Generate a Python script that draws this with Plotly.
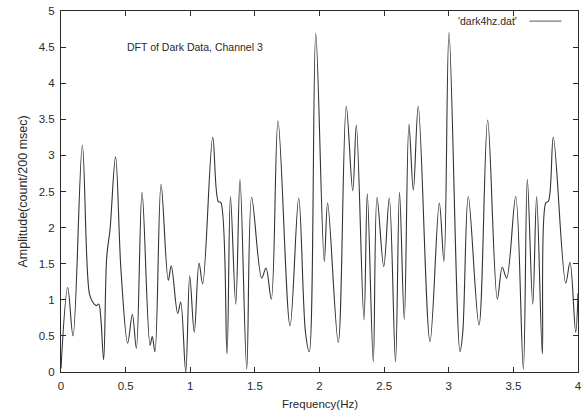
import plotly.graph_objects as go

series_name = "'dark4hz.dat'"
chart_note = "DFT of Dark Data, Channel 3"
x_title = "Frequency(Hz)"
y_title = "Amplitude(count/200 msec)"

freq = [0.0, 0.052, 0.093, 0.165, 0.219, 0.245, 0.271, 0.292, 0.307, 0.330,
        0.354, 0.379, 0.422, 0.464, 0.516, 0.552, 0.583, 0.627, 0.689, 0.706,
        0.727, 0.774, 0.830, 0.853, 0.903, 0.926, 0.965, 0.996, 1.031, 1.068,
        1.096, 1.174, 1.217, 1.236, 1.284, 1.311, 1.352, 1.385, 1.437, 1.475,
        1.553, 1.586, 1.627, 1.679, 1.772, 1.839, 1.892, 1.921, 1.971, 2.037,
        2.063, 2.145, 2.207, 2.257, 2.285, 2.344, 2.370, 2.416, 2.445, 2.497,
        2.540, 2.588, 2.619, 2.656, 2.692, 2.726, 2.764, 2.855, 2.927, 2.963,
        3.002, 3.087, 3.108, 3.151, 3.234, 3.301, 3.376, 3.414, 3.448, 3.518,
        3.577, 3.608, 3.650, 3.680, 3.724, 3.750, 3.772, 3.809, 3.905, 3.938,
        3.982, 4.0]
amplitude = [0.05, 1.17, 0.50, 3.14, 1.09, 0.97, 0.92, 0.94, 0.77, 0.17,
             1.60, 1.97, 2.98, 1.41, 0.40, 0.80, 0.33, 2.49, 0.37, 0.49,
             0.28, 2.60, 1.27, 1.47, 0.81, 0.97, 0.0, 1.33, 0.55, 1.51,
             1.22, 3.25, 2.36, 2.35, 0.25, 2.43, 0.94, 2.67, 0.04, 2.42,
             1.30, 1.44, 1.01, 3.48, 0.64, 2.41, 0.54, 0.28, 4.69, 1.53,
             2.34, 0.41, 3.68, 2.51, 3.42, 0.72, 2.47, 0.14, 2.42, 1.46,
             2.41, 0.14, 2.49, 0.73, 3.43, 2.52, 3.68, 0.42, 2.34, 1.53,
             4.70, 0.28, 0.54, 2.43, 0.65, 3.49, 1.01, 1.45, 1.30, 2.43,
             0.04, 2.67, 0.94, 2.43, 0.25, 2.34, 2.37, 3.25, 1.23, 1.52,
             0.55, 1.09]

x_ticks = [0, 0.5, 1, 1.5, 2, 2.5, 3, 3.5, 4]
x_tick_labels = ["0", "0.5", "1", "1.5", "2", "2.5", "3", "3.5", "4"]
y_ticks = [0, 0.5, 1, 1.5, 2, 2.5, 3, 3.5, 4, 4.5, 5]
y_tick_labels = ["0", "0.5", "1", "1.5", "2", "2.5", "3", "3.5", "4", "4.5", "5"]

ink = "#2a2a2a"
font = "Liberation Sans, Arial, Helvetica, sans-serif"

fig = go.Figure()
fig.add_trace(go.Scatter(
    x=freq, y=amplitude, mode="lines", name=series_name,
    line=dict(color="#333333", width=1.1, shape="spline", smoothing=1.0),
    showlegend=False, hoverinfo="skip",
))

axis_common = dict(
    showline=True, linecolor=ink, linewidth=1, mirror="ticks",
    ticks="inside", ticklen=5, tickcolor=ink, tickwidth=1,
    showgrid=False, zeroline=False, automargin=False,
    ticklabeloverflow="allow",
    tickfont=dict(family=font, size=11.5, color=ink),
)

fig.update_xaxes(range=[0, 4], tickvals=x_ticks, ticktext=x_tick_labels,
                 ticklabelstandoff=3, **axis_common)
fig.update_yaxes(range=[0, 5], tickvals=y_ticks, ticktext=y_tick_labels,
                 ticklabelstandoff=3, **axis_common)

# axis titles
fig.add_annotation(text=x_title, xref="paper", yref="paper", x=0.501, y=0,
                   yshift=-32, xanchor="center", yanchor="middle", showarrow=False,
                   font=dict(family=font, size=11.5, color=ink))
fig.add_annotation(text=y_title, xref="paper", yref="paper", x=0, y=0.5,
                   xshift=-39, textangle=-90, xanchor="center", yanchor="middle",
                   showarrow=False, font=dict(family=font, size=12.5, color=ink))

fig.add_annotation(text=chart_note, xref="paper", yref="paper", x=0.124, y=0.90,
                   xanchor="left", yanchor="middle", showarrow=False,
                   font=dict(family=font, size=10.5, color=ink))
# legend (gnuplot style: label then sample line to its right)
fig.add_annotation(text=series_name, xref="paper", yref="paper", x=0.885, y=0.972,
                   xanchor="right", yanchor="middle", showarrow=False,
                   font=dict(family=font, size=10.5, color=ink))
fig.add_shape(type="line", xref="paper", yref="paper", x0=0.906, x1=0.968,
              y0=0.972, y1=0.972, line=dict(color="#555555", width=1))

fig.update_layout(
    width=582, height=410,
    margin=dict(l=61, r=4, t=11, b=38),
    paper_bgcolor="white", plot_bgcolor="white",
    font=dict(family=font, color=ink),
)

# remove the browser's default page margin so the figure fills the window
fig.write_html("out.html", config={"displayModeBar": False, "staticPlot": True},
               post_script="document.body.style.margin='0';")
